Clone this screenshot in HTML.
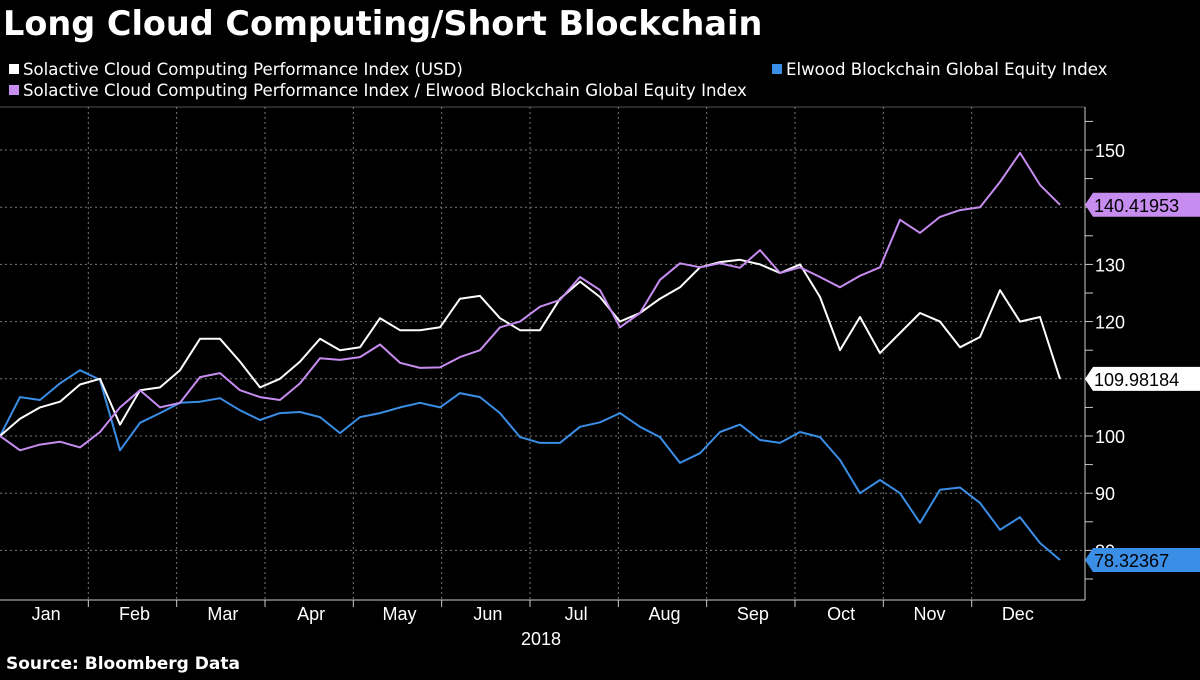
<!DOCTYPE html>
<html><head><meta charset="utf-8"><style>
body{margin:0;background:#000;width:1200px;height:675px;overflow:hidden;font-family:"Liberation Sans",sans-serif}
svg text{font-family:"Liberation Sans",sans-serif}
svg text.dv{font-family:"DejaVu Sans",sans-serif}
</style></head><body>
<svg id="c" width="1200" height="675" xmlns="http://www.w3.org/2000/svg">
<rect width="1200" height="675" fill="#000"/>
<text class="dv" x="3" y="35" fill="#fff" font-size="33.5" font-weight="bold">Long Cloud Computing/Short Blockchain</text>
<g>
<rect x="9" y="64" width="10" height="10" fill="#fff"/>
<text class="dv" x="23" y="75" fill="#fff" font-size="16.6">Solactive Cloud Computing Performance Index (USD)</text>
<rect x="772" y="64" width="10" height="10" fill="#3a8ee6"/>
<text class="dv" x="786" y="75" fill="#fff" font-size="16.6">Elwood Blockchain Global Equity Index</text>
<rect x="9" y="85" width="10" height="10" fill="#c78cf0"/>
<text class="dv" x="23" y="96" fill="#fff" font-size="16.6">Solactive Cloud Computing Performance Index / Elwood Blockchain Global Equity Index</text>
</g>
<g id="grid"></g>
<g id="series"></g>
<g id="axis"></g>
<text x="541" y="645" fill="#fff" font-size="18" text-anchor="middle">2018</text>
<text class="dv" x="6" y="669" fill="#fff" font-size="17" font-weight="bold">Source: Bloomberg Data</text>
</svg>
<script>
const months=["Jan","Feb","Mar","Apr","May","Jun","Jul","Aug","Sep","Oct","Nov","Dec"];
const yTicks=[80,90,100,110,120,130,140,150];
const cloud=[100,103,105,106,109,110,102,108,108.5,111.5,117,117,113,108.5,110,113,117,115,115.5,120.6,118.5,118.5,119,124,124.5,120.6,118.5,118.5,124,127,124.3,120,121.5,124,126,129.5,130.4,130.8,130,128.5,130,124.3,115,120.8,114.5,118,121.5,120,115.5,117.3,125.5,120,120.8,109.98];
const ratio=[100,97.5,98.5,99,98,100.7,105,108,105,105.8,110.3,111,108,106.8,106.3,109.2,113.6,113.3,113.8,116,112.8,111.9,112,113.8,115,119,120,122.6,123.8,127.8,125.5,119,121.5,127.3,130.2,129.5,130.2,129.4,132.5,128.5,129.5,127.8,126,128,129.5,137.8,135.5,138.3,139.5,140,144.4,149.5,143.9,140.42];
const chain=[100,106.8,106.3,109.2,111.5,109.8,97.5,102.3,104,105.8,106,106.6,104.5,102.8,104,104.2,103.3,100.5,103.3,104,105,105.8,105,107.5,106.8,104,99.8,98.8,98.8,101.6,102.4,104,101.6,99.8,95.3,97,100.7,102,99.3,98.8,100.7,99.8,95.8,90,92.3,90,84.8,90.6,91,88.3,83.6,85.8,81.3,78.32];
const lastLabels=["109.98184","140.41953","78.32367"];
const NS="http://www.w3.org/2000/svg";
const yS=v=>436-(v-100)*5.72;
const xS=(i,n)=>i/(n-1)*1060;
const monthX=m=>m*1060/12;
function mk(t,a,p){const e=document.createElementNS(NS,t);for(const k in a)e.setAttribute(k,a[k]);p.appendChild(e);return e;}
const grid=document.getElementById('grid'),ser=document.getElementById('series'),ax=document.getElementById('axis');
mk('line',{x1:0,y1:107,x2:1085,y2:107,stroke:'#555','stroke-width':1},grid);
yTicks.forEach(v=>{
 const l=mk('line',{x1:0,y1:yS(v),x2:1085,y2:yS(v),stroke:'#777','stroke-dasharray':'2,3','stroke-width':1},grid);
 
 
 const t=mk('text',{x:1095,y:yS(v)+7,fill:'#fff','font-size':18},ax);t.textContent=v;
 
 
});
for(let v=75;v<=155;v+=5){mk('line',{x1:1085,y1:yS(v),x2:1093,y2:yS(v),stroke:'#ccc'},ax);}
mk('line',{x1:1085,y1:107,x2:1085,y2:600,stroke:'#ccc'},ax);
mk('line',{x1:0,y1:600,x2:1085,y2:600,stroke:'#ccc'},ax);
months.forEach((m,i)=>{
 if(i>0){const g=mk('line',{x1:monthX(i),y1:107,x2:monthX(i),y2:600,stroke:'#777','stroke-dasharray':'2,3'},grid);
 
 
 mk('line',{x1:monthX(i),y1:600,x2:monthX(i),y2:607,stroke:'#ccc'},ax);}
 const t=mk('text',{x:monthX(i+0.5)+2,y:620,fill:'#fff','font-size':18,'text-anchor':'middle'},ax);t.textContent=m;
 
 
});
function line(d,col,name){
 const p=d.map((v,i)=>(i?'L':'M')+xS(i,d.length).toFixed(1)+','+yS(v).toFixed(1)).join('');
 const e=mk('path',{d:p,fill:'none',stroke:col,'stroke-width':2,'stroke-linejoin':'round'},ser);
 
 
}
line(chain,'#3a8ee6','blockchain-line');
line(cloud,'#ffffff','cloud-line');
line(ratio,'#c78cf0','ratio-line');
function tag(v,txt,bg,fg,name){
 const y=yS(v);
 const g=mk('g',{},ax);
 
 
 mk('path',{d:`M1085,${y}L1093,${y-12}L1200,${y-12}L1200,${y+12}L1093,${y+12}Z`,fill:bg},g);
 const t=mk('text',{x:1094,y:y+7,fill:fg,'font-size':18},g);t.textContent=txt;
}
tag(cloud[cloud.length-1],lastLabels[0],'#fff','#000','cloud-last-value');
tag(ratio[ratio.length-1],lastLabels[1],'#c78cf0','#000','ratio-last-value');
tag(chain[chain.length-1],lastLabels[2],'#3a8ee6','#000','blockchain-last-value');
</script>
</body></html>
